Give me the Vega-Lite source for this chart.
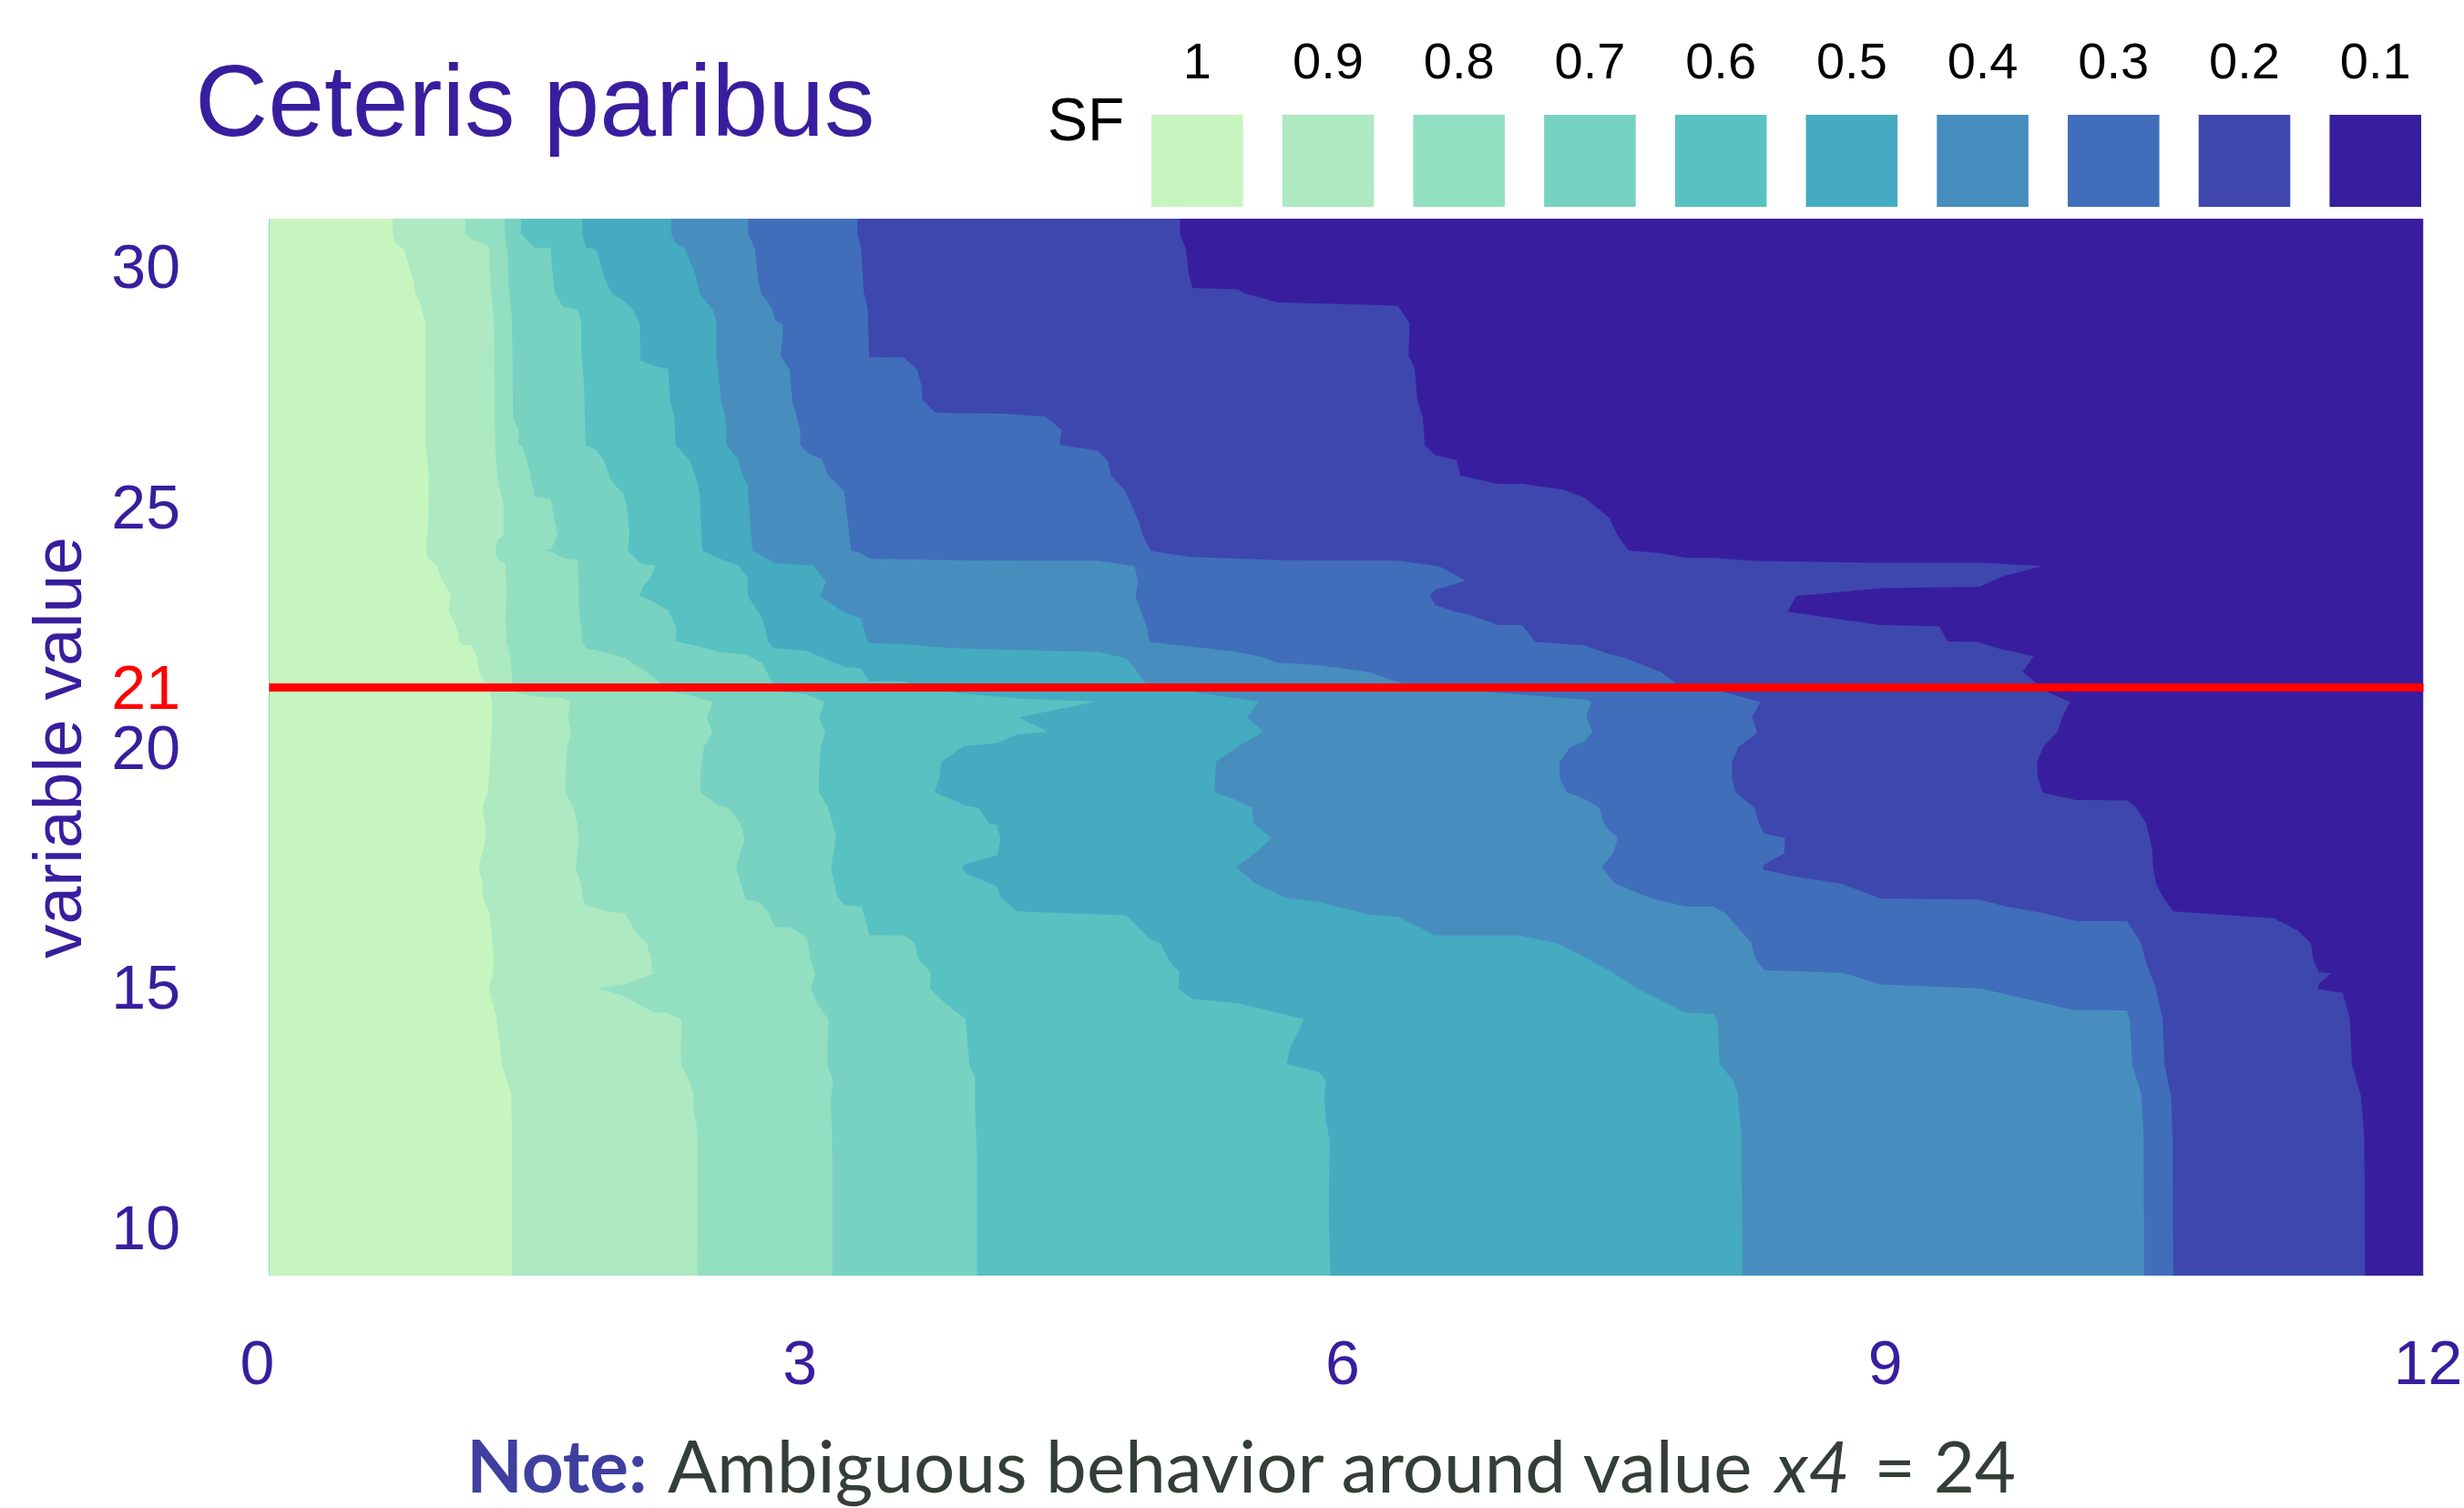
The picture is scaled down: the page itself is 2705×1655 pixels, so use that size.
{"$schema":"https://vega.github.io/schema/vega-lite/v6.json","padding":{"left":28.5,"top":25,"right":0,"bottom":0},"background":"white","config":{"view":{"stroke":null}},"spacing":13,"datasets":{"contours":[
{"level":"0.1","x":12,"y":31},{"level":"0.1","x":12,"y":9},
{"level":"0.2","x":5.073,"y":31},{"level":"0.2","x":5.073,"y":30.67},{"level":"0.2","x":5.107,"y":30.37},{"level":"0.2","x":5.122,"y":29.85},{"level":"0.2","x":5.143,"y":29.56},{"level":"0.2","x":5.394,"y":29.53},{"level":"0.2","x":5.433,"y":29.45},{"level":"0.2","x":5.614,"y":29.26},{"level":"0.2","x":6.288,"y":29.19},{"level":"0.2","x":6.352,"y":28.82},{"level":"0.2","x":6.347,"y":28.15},{"level":"0.2","x":6.381,"y":27.88},{"level":"0.2","x":6.396,"y":27.21},{"level":"0.2","x":6.425,"y":26.87},{"level":"0.2","x":6.438,"y":26.28},{"level":"0.2","x":6.495,"y":26.08},{"level":"0.2","x":6.614,"y":25.98},{"level":"0.2","x":6.635,"y":25.65},{"level":"0.2","x":6.844,"y":25.48},{"level":"0.2","x":6.981,"y":25.48},{"level":"0.2","x":7.209,"y":25.36},{"level":"0.2","x":7.328,"y":25.19},{"level":"0.2","x":7.465,"y":24.77},{"level":"0.2","x":7.512,"y":24.4},{"level":"0.2","x":7.574,"y":24.09},{"level":"0.2","x":7.75,"y":24.04},{"level":"0.2","x":7.888,"y":23.94},{"level":"0.2","x":8.047,"y":23.94},{"level":"0.2","x":8.26,"y":23.88},{"level":"0.2","x":8.897,"y":23.84},{"level":"0.2","x":9.533,"y":23.84},{"level":"0.2","x":9.873,"y":23.77},{"level":"0.2","x":9.653,"y":23.55},{"level":"0.2","x":9.528,"y":23.34},{"level":"0.2","x":8.989,"y":23.31},{"level":"0.2","x":8.506,"y":23.15},{"level":"0.2","x":8.459,"y":22.82},{"level":"0.2","x":8.976,"y":22.54},{"level":"0.2","x":9.303,"y":22.52},{"level":"0.2","x":9.35,"y":22.2},{"level":"0.2","x":9.52,"y":22.19},{"level":"0.2","x":9.64,"y":22.05},{"level":"0.2","x":9.828,"y":21.89},{"level":"0.2","x":9.767,"y":21.57},{"level":"0.2","x":9.844,"y":21.33},{"level":"0.2","x":9.905,"y":21.15},{"level":"0.2","x":10.032,"y":20.94},{"level":"0.2","x":9.99,"y":20.64},{"level":"0.2","x":9.961,"y":20.32},{"level":"0.2","x":9.884,"y":20.01},{"level":"0.2","x":9.847,"y":19.69},{"level":"0.2","x":9.852,"y":19.36},{"level":"0.2","x":9.879,"y":19.05},{"level":"0.2","x":10.064,"y":18.9},{"level":"0.2","x":10.351,"y":18.89},{"level":"0.2","x":10.401,"y":18.74},{"level":"0.2","x":10.454,"y":18.42},{"level":"0.2","x":10.489,"y":17.89},{"level":"0.2","x":10.494,"y":17.49},{"level":"0.2","x":10.51,"y":17.16},{"level":"0.2","x":10.555,"y":16.84},{"level":"0.2","x":10.608,"y":16.58},{"level":"0.2","x":11.166,"y":16.44},{"level":"0.2","x":11.298,"y":16.19},{"level":"0.2","x":11.373,"y":15.92},{"level":"0.2","x":11.386,"y":15.58},{"level":"0.2","x":11.418,"y":15.32},{"level":"0.2","x":11.484,"y":15.29},{"level":"0.2","x":11.415,"y":15.07},{"level":"0.2","x":11.415,"y":14.96},{"level":"0.2","x":11.55,"y":14.89},{"level":"0.2","x":11.59,"y":14.34},{"level":"0.2","x":11.601,"y":13.4},{"level":"0.2","x":11.651,"y":12.75},{"level":"0.2","x":11.67,"y":11.9},{"level":"0.2","x":11.675,"y":9},
{"level":"0.3","x":3.277,"y":31},{"level":"0.3","x":3.277,"y":30.69},{"level":"0.3","x":3.298,"y":30.35},{"level":"0.3","x":3.311,"y":29.51},{"level":"0.3","x":3.334,"y":29.1},{"level":"0.3","x":3.342,"y":28.12},{"level":"0.3","x":3.538,"y":28.11},{"level":"0.3","x":3.611,"y":27.85},{"level":"0.3","x":3.634,"y":27.51},{"level":"0.3","x":3.639,"y":27.23},{"level":"0.3","x":3.709,"y":26.97},{"level":"0.3","x":3.828,"y":26.95},{"level":"0.3","x":4.087,"y":26.94},{"level":"0.3","x":4.325,"y":26.88},{"level":"0.3","x":4.416,"y":26.6},{"level":"0.3","x":4.403,"y":26.29},{"level":"0.3","x":4.618,"y":26.17},{"level":"0.3","x":4.672,"y":25.95},{"level":"0.3","x":4.69,"y":25.65},{"level":"0.3","x":4.77,"y":25.33},{"level":"0.3","x":4.843,"y":24.7},{"level":"0.3","x":4.871,"y":24.36},{"level":"0.3","x":4.913,"y":24.08},{"level":"0.3","x":5.135,"y":23.96},{"level":"0.3","x":5.666,"y":23.89},{"level":"0.3","x":6.3,"y":23.88},{"level":"0.3","x":6.52,"y":23.76},{"level":"0.3","x":6.666,"y":23.46},{"level":"0.3","x":6.495,"y":23.27},{"level":"0.3","x":6.466,"y":23.15},{"level":"0.3","x":6.495,"y":22.96},{"level":"0.3","x":6.603,"y":22.82},{"level":"0.3","x":6.676,"y":22.77},{"level":"0.3","x":6.847,"y":22.54},{"level":"0.3","x":6.979,"y":22.54},{"level":"0.3","x":7.054,"y":22.19},{"level":"0.3","x":7.323,"y":22.12},{"level":"0.3","x":7.463,"y":21.94},{"level":"0.3","x":7.543,"y":21.87},{"level":"0.3","x":7.75,"y":21.57},{"level":"0.3","x":7.836,"y":21.33},{"level":"0.3","x":8.1,"y":21.15},{"level":"0.3","x":8.307,"y":20.94},{"level":"0.3","x":8.26,"y":20.62},{"level":"0.3","x":8.289,"y":20.3},{"level":"0.3","x":8.185,"y":20.01},{"level":"0.3","x":8.148,"y":19.69},{"level":"0.3","x":8.148,"y":19.36},{"level":"0.3","x":8.169,"y":19.06},{"level":"0.3","x":8.273,"y":18.74},{"level":"0.3","x":8.299,"y":18.42},{"level":"0.3","x":8.326,"y":18.21},{"level":"0.3","x":8.443,"y":18.11},{"level":"0.3","x":8.44,"y":17.79},{"level":"0.3","x":8.323,"y":17.54},{"level":"0.3","x":8.323,"y":17.45},{"level":"0.3","x":8.506,"y":17.3},{"level":"0.3","x":8.758,"y":17.16},{"level":"0.3","x":8.976,"y":16.85},{"level":"0.3","x":9.528,"y":16.83},{"level":"0.3","x":9.666,"y":16.69},{"level":"0.3","x":9.879,"y":16.55},{"level":"0.3","x":10.064,"y":16.38},{"level":"0.3","x":10.348,"y":16.38},{"level":"0.3","x":10.43,"y":15.91},{"level":"0.3","x":10.449,"y":15.58},{"level":"0.3","x":10.51,"y":14.98},{"level":"0.3","x":10.547,"y":14.34},{"level":"0.3","x":10.558,"y":13.4},{"level":"0.3","x":10.595,"y":12.71},{"level":"0.3","x":10.603,"y":11.82},{"level":"0.3","x":10.606,"y":9},
{"level":"0.4","x":2.668,"y":31},{"level":"0.4","x":2.668,"y":30.69},{"level":"0.4","x":2.705,"y":30.37},{"level":"0.4","x":2.725,"y":29.68},{"level":"0.4","x":2.743,"y":29.43},{"level":"0.4","x":2.8,"y":29.14},{"level":"0.4","x":2.816,"y":28.9},{"level":"0.4","x":2.862,"y":28.78},{"level":"0.4","x":2.86,"y":28.49},{"level":"0.4","x":2.847,"y":28.17},{"level":"0.4","x":2.899,"y":27.85},{"level":"0.4","x":2.914,"y":27.21},{"level":"0.4","x":2.958,"y":26.6},{"level":"0.4","x":2.958,"y":26.28},{"level":"0.4","x":3.002,"y":26.12},{"level":"0.4","x":3.08,"y":25.99},{"level":"0.4","x":3.114,"y":25.65},{"level":"0.4","x":3.202,"y":25.33},{"level":"0.4","x":3.243,"y":24.09},{"level":"0.4","x":3.295,"y":24.04},{"level":"0.4","x":3.344,"y":23.92},{"level":"0.4","x":3.828,"y":23.89},{"level":"0.4","x":4.618,"y":23.88},{"level":"0.4","x":4.82,"y":23.77},{"level":"0.4","x":4.84,"y":23.45},{"level":"0.4","x":4.827,"y":23.13},{"level":"0.4","x":4.889,"y":22.5},{"level":"0.4","x":4.905,"y":22.19},{"level":"0.4","x":5.394,"y":21.98},{"level":"0.4","x":5.537,"y":21.87},{"level":"0.4","x":5.614,"y":21.76},{"level":"0.4","x":5.834,"y":21.71},{"level":"0.4","x":6.119,"y":21.57},{"level":"0.4","x":6.308,"y":21.33},{"level":"0.4","x":6.779,"y":21.15},{"level":"0.4","x":7.323,"y":20.99},{"level":"0.4","x":7.365,"y":20.95},{"level":"0.4","x":7.336,"y":20.62},{"level":"0.4","x":7.372,"y":20.32},{"level":"0.4","x":7.328,"y":20.12},{"level":"0.4","x":7.245,"y":20.0},{"level":"0.4","x":7.188,"y":19.69},{"level":"0.4","x":7.188,"y":19.36},{"level":"0.4","x":7.227,"y":19.06},{"level":"0.4","x":7.323,"y":18.93},{"level":"0.4","x":7.411,"y":18.74},{"level":"0.4","x":7.432,"y":18.42},{"level":"0.4","x":7.453,"y":18.31},{"level":"0.4","x":7.512,"y":18.11},{"level":"0.4","x":7.489,"y":17.81},{"level":"0.4","x":7.422,"y":17.5},{"level":"0.4","x":7.497,"y":17.16},{"level":"0.4","x":7.691,"y":16.86},{"level":"0.4","x":7.888,"y":16.68},{"level":"0.4","x":8.042,"y":16.68},{"level":"0.4","x":8.114,"y":16.54},{"level":"0.4","x":8.254,"y":15.93},{"level":"0.4","x":8.278,"y":15.6},{"level":"0.4","x":8.326,"y":15.36},{"level":"0.4","x":8.764,"y":15.3},{"level":"0.4","x":8.981,"y":15.06},{"level":"0.4","x":9.533,"y":14.98},{"level":"0.4","x":10.051,"y":14.53},{"level":"0.4","x":10.348,"y":14.52},{"level":"0.4","x":10.364,"y":14.33},{"level":"0.4","x":10.377,"y":13.4},{"level":"0.4","x":10.428,"y":12.79},{"level":"0.4","x":10.441,"y":11.9},{"level":"0.4","x":10.444,"y":9},
{"level":"0.5","x":2.239,"y":31},{"level":"0.5","x":2.239,"y":30.69},{"level":"0.5","x":2.264,"y":30.49},{"level":"0.5","x":2.316,"y":30.37},{"level":"0.5","x":2.373,"y":29.85},{"level":"0.5","x":2.399,"y":29.43},{"level":"0.5","x":2.472,"y":29.1},{"level":"0.5","x":2.492,"y":28.82},{"level":"0.5","x":2.492,"y":28.15},{"level":"0.5","x":2.518,"y":27.21},{"level":"0.5","x":2.544,"y":26.8},{"level":"0.5","x":2.549,"y":26.28},{"level":"0.5","x":2.611,"y":25.99},{"level":"0.5","x":2.635,"y":25.68},{"level":"0.5","x":2.666,"y":25.45},{"level":"0.5","x":2.679,"y":24.7},{"level":"0.5","x":2.692,"y":24.09},{"level":"0.5","x":2.816,"y":23.83},{"level":"0.5","x":3.028,"y":23.78},{"level":"0.5","x":3.103,"y":23.45},{"level":"0.5","x":3.07,"y":23.15},{"level":"0.5","x":3.197,"y":22.81},{"level":"0.5","x":3.295,"y":22.69},{"level":"0.5","x":3.318,"y":22.4},{"level":"0.5","x":3.334,"y":22.17},{"level":"0.5","x":3.546,"y":22.14},{"level":"0.5","x":3.727,"y":22.08},{"level":"0.5","x":3.828,"y":22.06},{"level":"0.5","x":4.087,"y":22.03},{"level":"0.5","x":4.618,"y":21.98},{"level":"0.5","x":4.773,"y":21.85},{"level":"0.5","x":4.825,"y":21.62},{"level":"0.5","x":4.882,"y":21.33},{"level":"0.5","x":5.148,"y":21.15},{"level":"0.5","x":5.511,"y":20.95},{"level":"0.5","x":5.446,"y":20.62},{"level":"0.5","x":5.537,"y":20.32},{"level":"0.5","x":5.381,"y":19.98},{"level":"0.5","x":5.273,"y":19.69},{"level":"0.5","x":5.267,"y":19.06},{"level":"0.5","x":5.394,"y":18.89},{"level":"0.5","x":5.475,"y":18.74},{"level":"0.5","x":5.482,"y":18.42},{"level":"0.5","x":5.583,"y":18.11},{"level":"0.5","x":5.511,"y":17.85},{"level":"0.5","x":5.387,"y":17.5},{"level":"0.5","x":5.493,"y":17.16},{"level":"0.5","x":5.666,"y":16.86},{"level":"0.5","x":5.847,"y":16.78},{"level":"0.5","x":6.127,"y":16.51},{"level":"0.5","x":6.288,"y":16.47},{"level":"0.5","x":6.417,"y":16.23},{"level":"0.5","x":6.49,"y":16.08},{"level":"0.5","x":6.968,"y":16.08},{"level":"0.5","x":7.176,"y":15.92},{"level":"0.5","x":7.31,"y":15.66},{"level":"0.5","x":7.46,"y":15.36},{"level":"0.5","x":7.621,"y":14.98},{"level":"0.5","x":7.888,"y":14.47},{"level":"0.5","x":8.042,"y":14.45},{"level":"0.5","x":8.068,"y":14.33},{"level":"0.5","x":8.079,"y":13.4},{"level":"0.5","x":8.153,"y":13.07},{"level":"0.5","x":8.18,"y":12.79},{"level":"0.5","x":8.201,"y":11.9},{"level":"0.5","x":8.206,"y":9},
{"level":"0.6","x":1.744,"y":31},{"level":"0.6","x":1.744,"y":30.66},{"level":"0.6","x":1.765,"y":30.4},{"level":"0.6","x":1.804,"y":30.39},{"level":"0.6","x":1.83,"y":30.29},{"level":"0.6","x":1.866,"y":29.78},{"level":"0.6","x":1.91,"y":29.43},{"level":"0.6","x":1.985,"y":29.27},{"level":"0.6","x":2.026,"y":29.1},{"level":"0.6","x":2.065,"y":28.82},{"level":"0.6","x":2.068,"y":28.05},{"level":"0.6","x":2.148,"y":27.93},{"level":"0.6","x":2.223,"y":27.87},{"level":"0.6","x":2.233,"y":27.21},{"level":"0.6","x":2.257,"y":26.87},{"level":"0.6","x":2.264,"y":26.28},{"level":"0.6","x":2.34,"y":25.99},{"level":"0.6","x":2.381,"y":25.58},{"level":"0.6","x":2.399,"y":25.24},{"level":"0.6","x":2.412,"y":24.09},{"level":"0.6","x":2.485,"y":23.96},{"level":"0.6","x":2.614,"y":23.78},{"level":"0.6","x":2.666,"y":23.52},{"level":"0.6","x":2.666,"y":23.15},{"level":"0.6","x":2.738,"y":22.74},{"level":"0.6","x":2.762,"y":22.5},{"level":"0.6","x":2.777,"y":22.2},{"level":"0.6","x":2.813,"y":22.06},{"level":"0.6","x":2.989,"y":22.01},{"level":"0.6","x":3.204,"y":21.67},{"level":"0.6","x":3.295,"y":21.64},{"level":"0.6","x":3.344,"y":21.37},{"level":"0.6","x":3.541,"y":21.37},{"level":"0.6","x":3.559,"y":21.33},{"level":"0.6","x":3.828,"y":21.13},{"level":"0.6","x":4.19,"y":21.01},{"level":"0.6","x":4.605,"y":20.95},{"level":"0.6","x":4.177,"y":20.62},{"level":"0.6","x":4.338,"y":20.32},{"level":"0.6","x":4.165,"y":20.26},{"level":"0.6","x":4.061,"y":20.09},{"level":"0.6","x":3.867,"y":20.02},{"level":"0.6","x":3.743,"y":19.69},{"level":"0.6","x":3.733,"y":19.39},{"level":"0.6","x":3.707,"y":19.06},{"level":"0.6","x":3.883,"y":18.78},{"level":"0.6","x":3.952,"y":18.74},{"level":"0.6","x":4.009,"y":18.42},{"level":"0.6","x":4.053,"y":18.38},{"level":"0.6","x":4.074,"y":18.11},{"level":"0.6","x":4.056,"y":17.75},{"level":"0.6","x":3.88,"y":17.57},{"level":"0.6","x":3.859,"y":17.5},{"level":"0.6","x":3.88,"y":17.38},{"level":"0.6","x":4.053,"y":17.11},{"level":"0.6","x":4.079,"y":16.85},{"level":"0.6","x":4.165,"y":16.58},{"level":"0.6","x":4.773,"y":16.5},{"level":"0.6","x":4.908,"y":16.0},{"level":"0.6","x":4.967,"y":15.91},{"level":"0.6","x":5.006,"y":15.6},{"level":"0.6","x":5.071,"y":15.3},{"level":"0.6","x":5.063,"y":14.98},{"level":"0.6","x":5.143,"y":14.76},{"level":"0.6","x":5.394,"y":14.67},{"level":"0.6","x":5.765,"y":14.34},{"level":"0.6","x":5.684,"y":13.72},{"level":"0.6","x":5.669,"y":13.4},{"level":"0.6","x":5.847,"y":13.24},{"level":"0.6","x":5.886,"y":13.07},{"level":"0.6","x":5.878,"y":12.71},{"level":"0.6","x":5.886,"y":12.22},{"level":"0.6","x":5.907,"y":11.82},{"level":"0.6","x":5.902,"y":10.2},{"level":"0.6","x":5.912,"y":9},
{"level":"0.7","x":1.402,"y":31},{"level":"0.7","x":1.402,"y":30.69},{"level":"0.7","x":1.477,"y":30.4},{"level":"0.7","x":1.568,"y":30.39},{"level":"0.7","x":1.584,"y":29.64},{"level":"0.7","x":1.594,"y":29.43},{"level":"0.7","x":1.638,"y":29.16},{"level":"0.7","x":1.718,"y":29.12},{"level":"0.7","x":1.739,"y":28.83},{"level":"0.7","x":1.739,"y":28.22},{"level":"0.7","x":1.754,"y":27.55},{"level":"0.7","x":1.762,"y":26.28},{"level":"0.7","x":1.819,"y":26.19},{"level":"0.7","x":1.863,"y":25.99},{"level":"0.7","x":1.897,"y":25.62},{"level":"0.7","x":1.928,"y":25.45},{"level":"0.7","x":1.974,"y":25.28},{"level":"0.7","x":1.993,"y":24.97},{"level":"0.7","x":2.008,"y":24.47},{"level":"0.7","x":1.998,"y":24.09},{"level":"0.7","x":2.073,"y":23.81},{"level":"0.7","x":2.153,"y":23.78},{"level":"0.7","x":2.122,"y":23.52},{"level":"0.7","x":2.083,"y":23.35},{"level":"0.7","x":2.062,"y":23.15},{"level":"0.7","x":2.135,"y":23.04},{"level":"0.7","x":2.223,"y":22.84},{"level":"0.7","x":2.267,"y":22.5},{"level":"0.7","x":2.267,"y":22.2},{"level":"0.7","x":2.355,"y":22.13},{"level":"0.7","x":2.51,"y":21.98},{"level":"0.7","x":2.666,"y":21.91},{"level":"0.7","x":2.743,"y":21.76},{"level":"0.7","x":2.805,"y":21.33},{"level":"0.7","x":2.847,"y":21.15},{"level":"0.7","x":2.989,"y":21.11},{"level":"0.7","x":3.093,"y":20.94},{"level":"0.7","x":3.064,"y":20.62},{"level":"0.7","x":3.098,"y":20.3},{"level":"0.7","x":3.072,"y":20.0},{"level":"0.7","x":3.062,"y":19.39},{"level":"0.7","x":3.062,"y":19.06},{"level":"0.7","x":3.114,"y":18.74},{"level":"0.7","x":3.158,"y":18.13},{"level":"0.7","x":3.129,"y":17.49},{"level":"0.7","x":3.165,"y":16.88},{"level":"0.7","x":3.204,"y":16.72},{"level":"0.7","x":3.3,"y":16.68},{"level":"0.7","x":3.344,"y":16.09},{"level":"0.7","x":3.541,"y":16.08},{"level":"0.7","x":3.598,"y":15.91},{"level":"0.7","x":3.613,"y":15.6},{"level":"0.7","x":3.686,"y":15.3},{"level":"0.7","x":3.68,"y":14.98},{"level":"0.7","x":3.771,"y":14.65},{"level":"0.7","x":3.88,"y":14.34},{"level":"0.7","x":3.9,"y":13.4},{"level":"0.7","x":3.932,"y":13.11},{"level":"0.7","x":3.932,"y":12.47},{"level":"0.7","x":3.942,"y":11.49},{"level":"0.7","x":3.942,"y":9},
{"level":"0.8","x":1.312,"y":31},{"level":"0.8","x":1.312,"y":30.66},{"level":"0.8","x":1.33,"y":30.25},{"level":"0.8","x":1.335,"y":29.51},{"level":"0.8","x":1.353,"y":28.9},{"level":"0.8","x":1.358,"y":26.87},{"level":"0.8","x":1.392,"y":26.56},{"level":"0.8","x":1.387,"y":26.31},{"level":"0.8","x":1.41,"y":26.27},{"level":"0.8","x":1.444,"y":25.85},{"level":"0.8","x":1.48,"y":25.21},{"level":"0.8","x":1.568,"y":25.16},{"level":"0.8","x":1.591,"y":24.7},{"level":"0.8","x":1.607,"y":24.4},{"level":"0.8","x":1.568,"y":24.11},{"level":"0.8","x":1.506,"y":24.09},{"level":"0.8","x":1.568,"y":24.08},{"level":"0.8","x":1.635,"y":23.94},{"level":"0.8","x":1.721,"y":23.88},{"level":"0.8","x":1.726,"y":22.88},{"level":"0.8","x":1.744,"y":22.2},{"level":"0.8","x":1.767,"y":22.04},{"level":"0.8","x":1.811,"y":22.03},{"level":"0.8","x":1.98,"y":21.86},{"level":"0.8","x":2.101,"y":21.56},{"level":"0.8","x":2.182,"y":21.33},{"level":"0.8","x":2.252,"y":21.15},{"level":"0.8","x":2.337,"y":21.09},{"level":"0.8","x":2.472,"y":20.94},{"level":"0.8","x":2.438,"y":20.62},{"level":"0.8","x":2.469,"y":20.3},{"level":"0.8","x":2.42,"y":20.0},{"level":"0.8","x":2.402,"y":19.39},{"level":"0.8","x":2.402,"y":19.06},{"level":"0.8","x":2.505,"y":18.78},{"level":"0.8","x":2.557,"y":18.74},{"level":"0.8","x":2.624,"y":18.42},{"level":"0.8","x":2.648,"y":18.09},{"level":"0.8","x":2.601,"y":17.49},{"level":"0.8","x":2.653,"y":16.84},{"level":"0.8","x":2.736,"y":16.76},{"level":"0.8","x":2.782,"y":16.55},{"level":"0.8","x":2.816,"y":16.26},{"level":"0.8","x":2.904,"y":16.25},{"level":"0.8","x":2.995,"y":16.03},{"level":"0.8","x":3.015,"y":15.58},{"level":"0.8","x":3.041,"y":15.28},{"level":"0.8","x":3.018,"y":14.98},{"level":"0.8","x":3.054,"y":14.65},{"level":"0.8","x":3.114,"y":14.34},{"level":"0.8","x":3.108,"y":13.4},{"level":"0.8","x":3.14,"y":13.07},{"level":"0.8","x":3.129,"y":12.63},{"level":"0.8","x":3.137,"y":11.49},{"level":"0.8","x":3.137,"y":9},
{"level":"0.9","x":1.094,"y":31},{"level":"0.9","x":1.094,"y":30.69},{"level":"0.9","x":1.133,"y":30.56},{"level":"0.9","x":1.164,"y":30.54},{"level":"0.9","x":1.224,"y":30.42},{"level":"0.9","x":1.237,"y":29.41},{"level":"0.9","x":1.252,"y":28.9},{"level":"0.9","x":1.255,"y":27.41},{"level":"0.9","x":1.26,"y":26.19},{"level":"0.9","x":1.273,"y":25.58},{"level":"0.9","x":1.306,"y":25.04},{"level":"0.9","x":1.306,"y":24.4},{"level":"0.9","x":1.273,"y":24.31},{"level":"0.9","x":1.26,"y":24.09},{"level":"0.9","x":1.273,"y":23.92},{"level":"0.9","x":1.317,"y":23.81},{"level":"0.9","x":1.322,"y":23.15},{"level":"0.9","x":1.317,"y":22.81},{"level":"0.9","x":1.322,"y":22.2},{"level":"0.9","x":1.343,"y":21.89},{"level":"0.9","x":1.358,"y":21.33},{"level":"0.9","x":1.358,"y":21.15},{"level":"0.9","x":1.501,"y":21.05},{"level":"0.9","x":1.638,"y":21.02},{"level":"0.9","x":1.682,"y":20.94},{"level":"0.9","x":1.664,"y":20.62},{"level":"0.9","x":1.682,"y":20.3},{"level":"0.9","x":1.661,"y":20.0},{"level":"0.9","x":1.651,"y":19.39},{"level":"0.9","x":1.651,"y":19.06},{"level":"0.9","x":1.695,"y":18.74},{"level":"0.9","x":1.716,"y":18.42},{"level":"0.9","x":1.726,"y":18.09},{"level":"0.9","x":1.708,"y":17.49},{"level":"0.9","x":1.736,"y":17.16},{"level":"0.9","x":1.747,"y":16.88},{"level":"0.9","x":1.762,"y":16.7},{"level":"0.9","x":1.889,"y":16.58},{"level":"0.9","x":1.982,"y":16.55},{"level":"0.9","x":2.031,"y":16.23},{"level":"0.9","x":2.07,"y":16.03},{"level":"0.9","x":2.104,"y":15.92},{"level":"0.9","x":2.127,"y":15.58},{"level":"0.9","x":2.138,"y":15.28},{"level":"0.9","x":1.993,"y":15.07},{"level":"0.9","x":1.824,"y":14.98},{"level":"0.9","x":1.967,"y":14.84},{"level":"0.9","x":2.14,"y":14.48},{"level":"0.9","x":2.213,"y":14.47},{"level":"0.9","x":2.298,"y":14.34},{"level":"0.9","x":2.293,"y":13.72},{"level":"0.9","x":2.295,"y":13.4},{"level":"0.9","x":2.334,"y":13.11},{"level":"0.9","x":2.363,"y":12.79},{"level":"0.9","x":2.363,"y":12.47},{"level":"0.9","x":2.381,"y":12.14},{"level":"0.9","x":2.386,"y":11.82},{"level":"0.9","x":2.384,"y":9},
{"level":"1","x":0.688,"y":31},{"level":"1","x":0.688,"y":30.69},{"level":"1","x":0.701,"y":30.49},{"level":"1","x":0.75,"y":30.37},{"level":"1","x":0.802,"y":29.75},{"level":"1","x":0.815,"y":29.43},{"level":"1","x":0.84,"y":29.24},{"level":"1","x":0.871,"y":28.82},{"level":"1","x":0.871,"y":26.33},{"level":"1","x":0.89,"y":25.65},{"level":"1","x":0.887,"y":24.77},{"level":"1","x":0.874,"y":24.09},{"level":"1","x":0.885,"y":23.92},{"level":"1","x":0.931,"y":23.79},{"level":"1","x":0.962,"y":23.48},{"level":"1","x":0.996,"y":23.28},{"level":"1","x":1.014,"y":23.15},{"level":"1","x":1.001,"y":22.84},{"level":"1","x":1.042,"y":22.5},{"level":"1","x":1.06,"y":22.2},{"level":"1","x":1.079,"y":22.13},{"level":"1","x":1.125,"y":22.12},{"level":"1","x":1.156,"y":21.89},{"level":"1","x":1.174,"y":21.52},{"level":"1","x":1.208,"y":21.33},{"level":"1","x":1.229,"y":21.15},{"level":"1","x":1.242,"y":20.93},{"level":"1","x":1.242,"y":20.56},{"level":"1","x":1.224,"y":19.35},{"level":"1","x":1.216,"y":19.06},{"level":"1","x":1.187,"y":18.74},{"level":"1","x":1.206,"y":18.38},{"level":"1","x":1.203,"y":18.05},{"level":"1","x":1.19,"y":17.81},{"level":"1","x":1.174,"y":17.65},{"level":"1","x":1.169,"y":17.45},{"level":"1","x":1.187,"y":17.2},{"level":"1","x":1.193,"y":16.84},{"level":"1","x":1.229,"y":16.51},{"level":"1","x":1.252,"y":15.62},{"level":"1","x":1.247,"y":15.3},{"level":"1","x":1.226,"y":14.98},{"level":"1","x":1.247,"y":14.65},{"level":"1","x":1.268,"y":14.33},{"level":"1","x":1.289,"y":13.68},{"level":"1","x":1.294,"y":13.4},{"level":"1","x":1.314,"y":13.2},{"level":"1","x":1.348,"y":12.79},{"level":"1","x":1.353,"y":11.82},{"level":"1","x":1.353,"y":9}
],"legend":[{"level":"1"},{"level":"0.9"},{"level":"0.8"},{"level":"0.7"},{"level":"0.6"},{"level":"0.5"},{"level":"0.4"},{"level":"0.3"},{"level":"0.2"},{"level":"0.1"}]},
"vconcat":[
{"width":2365,"height":202,"title":{"text":"Ceteris paribus","anchor":"start","frame":"group","font":"Liberation Sans","fontSize":111,"fontWeight":"normal","color":"#381E9E","offset":0,"dx":-81.5,"dy":235,"baseline":"alphabetic"},"layer":[
{"data":{"name":"legend"},"mark":{"type":"rect"},"encoding":{"x":{"field":"level","type":"nominal","sort":null,"scale":{"type":"band","domain":["1","0.9","0.8","0.7","0.6","0.5","0.4","0.3","0.2","0.1"],"range":[968.5,2362.5],"paddingInner":0.3,"paddingOuter":0},"axis":null},"y":{"datum":"swatch","type":"nominal","scale":{"domain":["label","swatch"],"paddingInner":0,"paddingOuter":0},"axis":null},"color":{"field":"level","type":"nominal","scale":{"domain":["1","0.9","0.8","0.7","0.6","0.5","0.4","0.3","0.2","0.1"],"range":["#C7F5BF","#ADE9C1","#93DFC1","#78D2C1","#58C1C2","#45ABC1","#478EBF","#406EBA","#3E47AD","#381E9E"]},"legend":null}}},
{"data":{"name":"legend"},"mark":{"type":"text","font":"Liberation Sans","fontSize":56,"color":"#000000","dy":-6.5,"baseline":"middle"},"encoding":{"x":{"field":"level","type":"nominal","sort":null},"y":{"datum":"label","type":"nominal"},"text":{"field":"level"}}},
{"data":{"values":[{"name":"SF"}]},"mark":{"type":"text","font":"Liberation Sans","fontSize":66,"color":"#000000","align":"right","baseline":"middle","dx":-80,"dy":-43},"encoding":{"x":{"datum":"1","type":"nominal"},"y":{"datum":"swatch","type":"nominal"},"text":{"field":"name"}}}
]},
{"width":2365,"height":1160,"layer":[
{"data":{"name":"contours"},"mark":{"type":"area","orient":"horizontal","clip":true},"encoding":{"x":{"field":"x","type":"quantitative","stack":null,"scale":{"domain":[0,12],"nice":false,"zero":false},"axis":{"values":[0,3,6,9,12],"format":"d","title":null,"grid":false,"domain":false,"ticks":false,"labelFont":"Liberation Sans","labelFontSize":68,"labelColor":"#381E9E","labelPadding":64,"labelFlush":false,"labelOverlap":false,"encoding":{"labels":{"dx":{"value":{"expr":"-13.5+1.5*datum.value"}}}}}},"x2":{"datum":0},"y":{"field":"y","type":"quantitative","scale":{"domain":[9,31],"nice":false,"zero":false},"axis":{"values":[10,15,20,21.24,25,30],"labelExpr":"datum.value==21.24?'21':datum.label","labelColor":{"condition":{"test":"datum.value==21.24","value":"#FF0000"},"value":"#381E9E"},"labelOffset":3,"title":"variable value","titleFont":"Liberation Sans","titleFontSize":75,"titleFontWeight":"normal","titleColor":"#381E9E","titlePadding":17,"grid":false,"domain":false,"ticks":false,"labelFont":"Liberation Sans","labelFontSize":68,"labelPadding":98,"labelOverlap":false,"labelFlush":false}},"color":{"field":"level","type":"nominal","scale":{"domain":["1","0.9","0.8","0.7","0.6","0.5","0.4","0.3","0.2","0.1"],"range":["#C7F5BF","#ADE9C1","#93DFC1","#78D2C1","#58C1C2","#45ABC1","#478EBF","#406EBA","#3E47AD","#381E9E"]},"legend":null},"order":{"value":null}}},
{"data":{"values":[{"x4":21.24}]},"mark":{"type":"rule","color":"#FF0000","strokeWidth":9},"encoding":{"y":{"field":"x4","type":"quantitative"},"x":{"datum":0},"x2":{"datum":12}}},
{"data":{"values":[{"t":"Note:"}]},"mark":{"type":"text","font":"Lato","fontWeight":"bold","fontSize":80,"color":"#3F3FA0","align":"left","baseline":"alphabetic"},"encoding":{"x":{"datum":1.10},"y":{"datum":4.49},"text":{"field":"t"}}},
{"data":{"values":[{"t":"Ambiguous behavior around value"}]},"mark":{"type":"text","font":"Lato","fontSize":80,"color":"#343E37","align":"left","baseline":"alphabetic"},"encoding":{"x":{"datum":2.22},"y":{"datum":4.49},"text":{"field":"t"}}},
{"data":{"values":[{"t":"x4"}]},"mark":{"type":"text","font":"Lato","fontStyle":"italic","fontSize":78,"color":"#343E37","align":"left","baseline":"alphabetic"},"encoding":{"x":{"datum":8.39},"y":{"datum":4.49},"text":{"field":"t"}}},
{"data":{"values":[{"t":"= 24"}]},"mark":{"type":"text","font":"Lato","fontSize":78,"color":"#343E37","align":"left","baseline":"alphabetic"},"encoding":{"x":{"datum":8.94},"y":{"datum":4.49},"text":{"field":"t"}}}
]}
]}
